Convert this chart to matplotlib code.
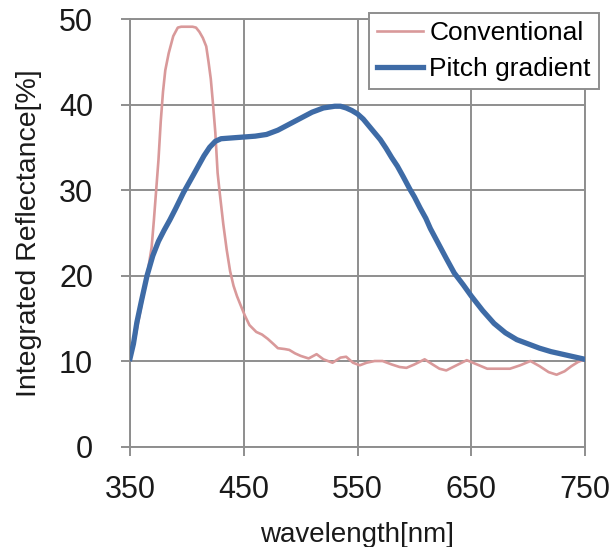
"""
plot.py - Integrated reflectance of conventional vs pitch-gradient film.
"""

import matplotlib
matplotlib.use("Agg")
import matplotlib.pyplot as plt


# Conventional film
wl_conv = [350, 355, 360, 365, 369, 371, 373, 375, 377, 379, 381, 384, 388, 392,
           395, 400, 405, 408, 411, 414, 417, 419, 421, 423, 425, 427, 429, 432,
           435, 438, 441, 444, 447, 451, 455, 461, 466, 471, 476, 480, 486, 490,
           495, 500, 507, 514, 520, 528, 535, 540, 546, 552, 558, 565, 572, 580,
           587, 593, 600, 609, 616, 622, 628, 637, 646, 655, 664, 675, 684, 693,
           702, 710, 718, 725, 732, 738, 744, 750]
refl_conv = [10.4, 13.0, 16.5, 20.0, 23.3, 26.5, 30.0, 33.5, 38.0, 41.5, 44.0,
             46.0, 48.0, 49.0, 49.1, 49.1, 49.1, 49.0, 48.5, 47.8, 46.8, 45.0,
             43.0, 40.0, 36.7, 32.0, 29.5, 26.0, 23.0, 20.5, 18.8, 17.6, 16.6,
             15.3, 14.2, 13.4, 13.1, 12.6, 12.0, 11.5, 11.4, 11.3, 10.9, 10.6,
             10.3, 10.8, 10.2, 9.8, 10.4, 10.5, 9.8, 9.5, 9.8, 10.0, 10.0, 9.6,
             9.3, 9.2, 9.6, 10.2, 9.6, 9.1, 8.9, 9.5, 10.1, 9.6, 9.1, 9.1, 9.1,
             9.5, 10.0, 9.4, 8.7, 8.4, 8.8, 9.4, 9.9, 10.2]

# Pitch gradient film
wl_pitch = [350, 353, 356, 360, 365, 370, 375, 380, 385, 390, 397, 405, 410, 415,
            420, 425, 430, 440, 450, 460, 470, 480, 490, 500, 510, 520, 530, 535,
            540, 545, 550, 555, 560, 565, 570, 575, 580, 585, 590, 596, 600, 605,
            610, 614, 620, 628, 635, 643, 650, 660, 670, 680, 690, 700, 710, 720,
            730, 740, 750]
refl_pitch = [10.3, 12.0, 14.5, 17.0, 20.0, 22.3, 24.0, 25.3, 26.5, 27.8, 29.7,
              31.6, 32.8, 34.0, 35.0, 35.7, 36.0, 36.1, 36.2, 36.3, 36.5, 37.0,
              37.7, 38.4, 39.1, 39.6, 39.8, 39.8, 39.6, 39.3, 38.9, 38.3, 37.5,
              36.7, 35.9, 34.9, 33.8, 32.8, 31.6, 30.1, 29.2, 27.9, 26.7, 25.5,
              24.0, 22.0, 20.3, 18.9, 17.6, 15.9, 14.4, 13.3, 12.5, 12.0, 11.5,
              11.1, 10.8, 10.5, 10.2]

x_ticks = [350, 450, 550, 650, 750]
y_ticks = [0, 10, 20, 30, 40, 50]

GRID = "#8e8e8e"
RED = "#d9999a"
BLUE = "#3e6ba6"


def main():
    plt.rcParams["font.family"] = ["Liberation Sans", "DejaVu Sans"]

    fig = plt.figure(figsize=(6.13, 5.47), dpi=100)
    ax = fig.add_axes([0.2121, 0.1837, 0.7423, 0.7815])

    ax.plot(wl_conv, refl_conv, color=RED, lw=1.9, label="Conventional", zorder=3)
    ax.plot(wl_pitch, refl_pitch, color=BLUE, lw=3.8, label="Pitch gradient", zorder=4)

    ax.set_xlim(350, 750)
    ax.set_ylim(0, 50)
    ax.set_xticks(x_ticks)
    ax.set_yticks(y_ticks)
    ax.grid(True, color=GRID, lw=1.4)
    ax.set_axisbelow(True)
    for spine in ax.spines.values():
        spine.set_color(GRID)
        spine.set_linewidth(1.4)

    ax.tick_params(axis="both", direction="out", length=6.5, width=1.4,
                   color=GRID, labelsize=22, labelcolor="#1a1a1a")
    ax.tick_params(axis="x", pad=14)
    ax.tick_params(axis="y", pad=20)

    ax.set_xlabel("wavelength[nm]", fontsize=20, color="#1a1a1a", labelpad=12)
    ax.set_ylabel("Integrated Reflectance[%]", fontsize=20.5, color="#1a1a1a",
                  labelpad=12)

    leg = ax.legend(loc="upper right", bbox_to_anchor=(0.977, 0.976),
                    bbox_transform=fig.transFigure, fontsize=19,
                    frameon=True, fancybox=False, framealpha=1, borderaxespad=0,
                    borderpad=0.3, labelspacing=0.45, handlelength=1.75,
                    handletextpad=0.25)
    leg.get_frame().set_edgecolor(GRID)
    leg.get_frame().set_linewidth(1.4)

    fig.savefig("out.png", dpi=100)
    plt.close(fig)


if __name__ == "__main__":
    main()
